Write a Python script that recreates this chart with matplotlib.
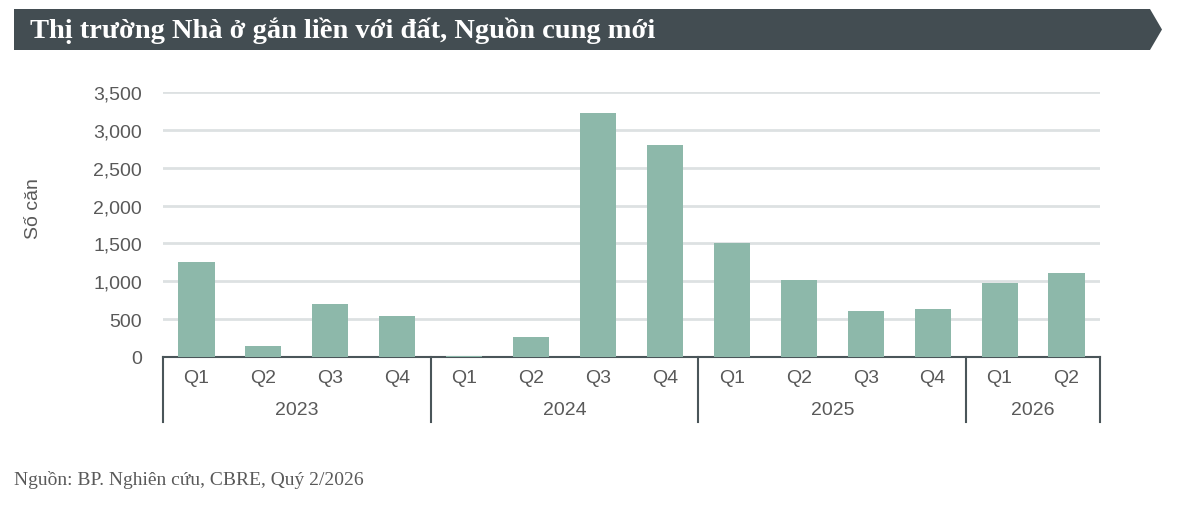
import matplotlib
matplotlib.use("Agg")
import matplotlib.pyplot as plt
from matplotlib.patches import Polygon

# du lieu
years = ["2023", "2024", "2025", "2026"]
quarters = ["Q1", "Q2", "Q3", "Q4", "Q1", "Q2", "Q3", "Q4",
            "Q1", "Q2", "Q3", "Q4", "Q1", "Q2"]
quarters_per_year = [4, 4, 4, 2]
supply = [1250, 145, 700, 540, 15, 260, 3220, 2800,
          1500, 1015, 605, 630, 980, 1105]
yticks = [0, 500, 1000, 1500, 2000, 2500, 3000, 3500]

title = "Thị trường Nhà ở gắn liền với đất, Nguồn cung mới"
source = "Nguồn: BP. Nghiên cứu, CBRE, Quý 2/2026"

W, H = 1178, 510
bar_color = "#8db8aa"
text_gray = "#595959"
line_gray = "#4a5559"

fig = plt.figure(figsize=(W / 100, H / 100), dpi=100)

# banner tieu de
def px(x, y):
    return (x / W, 1 - y / H)

banner = Polygon([px(14, 10), px(1150, 10), px(1162, 30.5), px(1150, 51), px(14, 51)],
                 closed=True, transform=fig.transFigure, facecolor="#434d52",
                 edgecolor="none")
fig.patches.append(banner)
fig.text(30 / W, 1 - 31 / H, title, color="white", fontsize=20.5, fontweight="bold",
         family="Liberation Serif", va="center", ha="left")

# truc bieu do
left, right, top, bottom = 163, 1100, 93, 358
ax = fig.add_axes([left / W, 1 - bottom / H, (right - left) / W, (bottom - top) / H])

x = list(range(len(supply)))
ax.bar(x, supply, width=0.54, color=bar_color, zorder=3)
ax.set_xlim(-0.5, len(supply) - 0.5)
ax.set_ylim(0, 3500)

ax.set_yticks(yticks)
ax.set_yticklabels([f"{v:,}" for v in yticks], family="Liberation Sans",
                   fontsize=14, color=text_gray)
ax.yaxis.grid(True, color="#dde1e2", linewidth=2)
ax.set_axisbelow(True)
ax.tick_params(axis="y", length=0, pad=15)

ax.set_xticks(x)
ax.set_xticklabels(quarters, family="Liberation Sans", fontsize=14, color=text_gray)
ax.tick_params(axis="x", length=0, pad=9)

for s in ["top", "right", "left"]:
    ax.spines[s].set_visible(False)
ax.spines["bottom"].set_color(line_gray)
ax.spines["bottom"].set_linewidth(1.5)

# duong phan cach nam va nhan nam
depth = -(423 - bottom) / (bottom - top)
ylab = -(411 - bottom) / (bottom - top)
trans = ax.get_xaxis_transform()
start = -0.5
for yr, n in zip(years, quarters_per_year):
    ax.plot([start, start], [0, depth], transform=trans, color=line_gray,
            linewidth=1.5, clip_on=False)
    ax.text(start + n / 2, ylab, yr, transform=trans, ha="center", va="center",
            family="Liberation Sans", fontsize=14, color=text_gray)
    start += n
ax.plot([start, start], [0, depth], transform=trans, color=line_gray,
        linewidth=1.5, clip_on=False)

fig.text(33 / W, 1 - 209 / H, "Số căn", rotation=90, ha="center", va="center",
         family="Liberation Sans", fontsize=14, color=text_gray)

fig.text(14 / W, 1 - 480 / H, source, family="Liberation Serif", fontsize=14,
         color=text_gray, ha="left", va="center")

fig.savefig("out.png", dpi=100, facecolor="white")
